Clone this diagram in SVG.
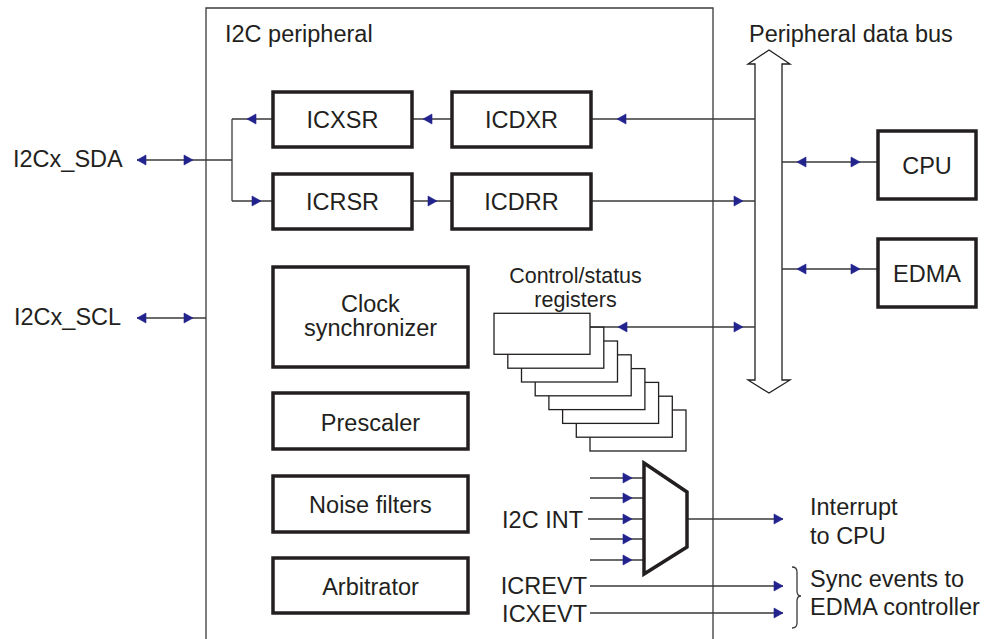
<svg xmlns="http://www.w3.org/2000/svg" width="987" height="639" viewBox="0 0 987 639">
<style>
text{font-family:"Liberation Sans",Arial,sans-serif;font-size:23.5px;fill:#231f20}
.c{text-anchor:middle}
.e{text-anchor:end}
.sm{font-size:21.5px}
.box{fill:#fff;stroke:#231f20;stroke-width:3.5}
.thin{fill:#fff;stroke:#231f20;stroke-width:1.3}
.ln{fill:none;stroke:#3a3a3a;stroke-width:1.3}
.ah{fill:#23238e;stroke:#23238e;stroke-width:0.6;stroke-linejoin:round}
</style>
<defs>
<path id="ar" d="M0,0 L-9,-5 L-9,5 Z"/>
</defs>
<rect width="987" height="639" fill="#fff"/>

<g id="i2c-peripheral">
<path class="ln" d="M206,639 V8 H713 V639"/>
<text x="225" y="42">I2C peripheral</text>
</g>

<g id="bus">
<polygon class="thin" points="755,380 755,64 748,64 769,50 790,64 782,64 782,380 790,380 769,393 748,380"/>
<text x="749" y="42">Peripheral data bus</text>
</g>

<g id="connectors">
<path class="ln" d="M137,160 H232 M232,119 V201 M232,119 H273 M232,201 H273"/>
<path class="ln" d="M137,318 H206"/>
<path class="ln" d="M412,119 H452 M412,201 H452"/>
<path class="ln" d="M591,119 H755 M591,201 H755"/>
<path class="ln" d="M590,327 H755"/>
<path class="ln" d="M782,162 H878 M782,269 H878"/>
<path class="ln" d="M590,478 H644 M590,498 H644 M588,519 H644 M590,539 H644 M590,560 H644"/>
<path class="ln" d="M687,519 H783"/>
<path class="ln" d="M590,586 H783 M590,613 H783"/>
<path class="ln" d="M792,567 Q797,567 797,572 L797,591 Q797,596 801,596 Q797,596 797,601 L797,623 Q797,628 792,628"/>
<g class="ah">
<use href="#ar" transform="translate(137,160) rotate(180)"/>
<use href="#ar" transform="translate(193,160)"/>
<use href="#ar" transform="translate(137,318) rotate(180)"/>
<use href="#ar" transform="translate(193,318)"/>
<use href="#ar" transform="translate(247,119) rotate(180)"/>
<use href="#ar" transform="translate(261,201)"/>
<use href="#ar" transform="translate(423,119) rotate(180)"/>
<use href="#ar" transform="translate(437,201)"/>
<use href="#ar" transform="translate(617,119) rotate(180)"/>
<use href="#ar" transform="translate(743,201)"/>
<use href="#ar" transform="translate(618,327) rotate(180)"/>
<use href="#ar" transform="translate(743,327)"/>
<use href="#ar" transform="translate(797,162) rotate(180)"/>
<use href="#ar" transform="translate(860,162)"/>
<use href="#ar" transform="translate(797,269) rotate(180)"/>
<use href="#ar" transform="translate(860,269)"/>
<use href="#ar" transform="translate(632,478)"/>
<use href="#ar" transform="translate(632,498)"/>
<use href="#ar" transform="translate(632,519)"/>
<use href="#ar" transform="translate(632,539)"/>
<use href="#ar" transform="translate(632,560)"/>
<use href="#ar" transform="translate(783,519)"/>
<use href="#ar" transform="translate(783,586)"/>
<use href="#ar" transform="translate(783,613)"/>
</g>
</g>

<g id="sda"><text x="13" y="167">I2Cx_SDA</text></g>
<g id="scl"><text x="14" y="325">I2Cx_SCL</text></g>

<g id="icxsr"><rect class="box" x="273" y="92" width="139" height="55"/><text class="c" x="342.5" y="128">ICXSR</text></g>
<g id="icdxr"><rect class="box" x="452" y="92" width="139" height="55"/><text class="c" x="521.5" y="128">ICDXR</text></g>
<g id="icrsr"><rect class="box" x="273" y="174" width="139" height="55"/><text class="c" x="342.5" y="210">ICRSR</text></g>
<g id="icdrr"><rect class="box" x="452" y="174" width="139" height="55"/><text class="c" x="521.5" y="210">ICDRR</text></g>

<g id="clock-sync"><rect class="box" x="273" y="267" width="195" height="100"/><text class="c" x="370.5" y="312">Clock</text><text class="c" x="370.5" y="336">synchronizer</text></g>
<g id="prescaler"><rect class="box" x="273" y="393" width="195" height="56"/><text class="c" x="370.5" y="431">Prescaler</text></g>
<g id="noise-filters"><rect class="box" x="273" y="476" width="195" height="56"/><text class="c" x="370.5" y="513">Noise filters</text></g>
<g id="arbitrator"><rect class="box" x="273" y="558" width="195" height="55"/><text class="c" x="370.5" y="595">Arbitrator</text></g>

<g id="control-status">
<text class="c sm" x="575.5" y="282.5">Control/status</text>
<text class="c sm" x="575.5" y="306.5">registers</text>
<rect class="thin" x="590" y="410" width="96" height="41"/>
<rect class="thin" x="576.3" y="396.2" width="96" height="41"/>
<rect class="thin" x="562.6" y="382.4" width="96" height="41"/>
<rect class="thin" x="548.9" y="368.6" width="96" height="41"/>
<rect class="thin" x="535.2" y="354.8" width="96" height="41"/>
<rect class="thin" x="521.5" y="341" width="96" height="41"/>
<rect class="thin" x="507.8" y="327.2" width="96" height="41"/>
<rect class="thin" x="494" y="313.3" width="96" height="41"/>
</g>

<g id="cpu"><rect class="box" x="878" y="131" width="98" height="68"/><text class="c" x="927" y="174">CPU</text></g>
<g id="edma"><rect class="box" x="878" y="239" width="98" height="68"/><text class="c" x="927" y="282">EDMA</text></g>

<g id="mux">
<polygon points="644,463 687,492 687,547 644,574" fill="#fff" stroke="#231f20" stroke-width="3.5" stroke-linejoin="miter"/>
<text class="e" x="583" y="528">I2C INT</text>
</g>

<g id="signals">
<text class="e" x="587" y="594">ICREVT</text>
<text class="e" x="587" y="622">ICXEVT</text>
<text x="810" y="515">Interrupt</text>
<text x="810" y="544">to CPU</text>
<text x="810" y="587">Sync events to</text>
<text x="810" y="615">EDMA controller</text>
</g>
</svg>
